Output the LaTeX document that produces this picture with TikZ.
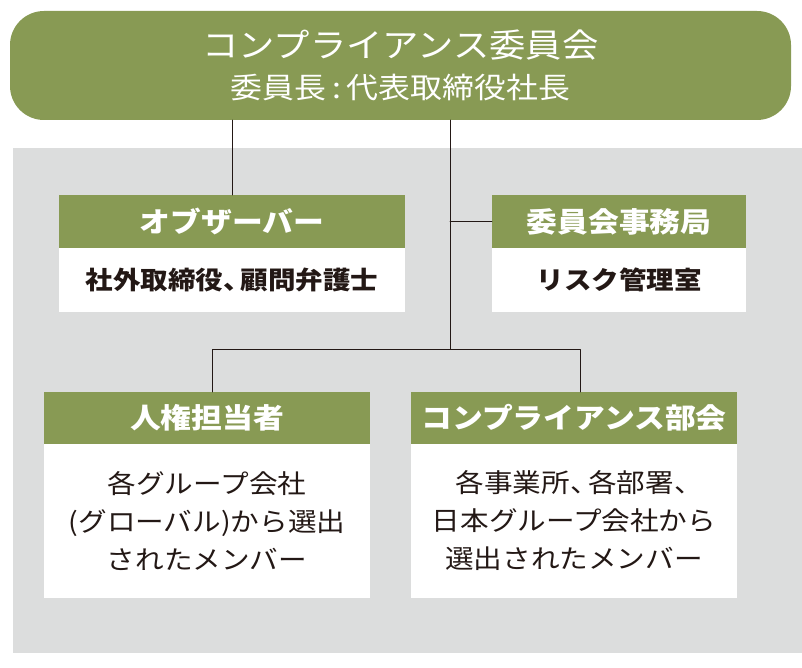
\documentclass[tikz,border=0pt]{standalone}
\usepackage{fontspec}
\setmainfont{Noto Sans CJK JP}[FakeStretch=1.1]
\usetikzlibrary{positioning}
\definecolor{olive}{RGB}{136,154,84}
\definecolor{panel}{RGB}{220,221,221}
\definecolor{ink}{RGB}{35,24,21}
\newcommand\tou{、\kern-0.4em}
\begin{document}
\begin{tikzpicture}[x=1pt,y=-1pt,line cap=round,line join=round,
  head/.style={fill=olive,text=white,font=\bfseries\fontsize{28}{32}\selectfont,inner sep=0,outer sep=0},
  note/.style={fill=white,text=ink,inner sep=0,outer sep=0,align=center},
  link/.style={draw=ink,line width=0.8pt}]
  \useasboundingbox (0,0) rectangle (802,668);
  \fill[panel] (13,148) rectangle (802,653);
  \node[fill=olive,text=white,rounded corners=34,minimum width=781,minimum height=109,inner sep=0,outer sep=0,align=center,font=\fontsize{29}{41}\selectfont] (board) at (400.5,65.5)
    {{\fontsize{33}{41}\selectfont コンプライアンス委員会}\\委員長\hspace{0.2em}:\hspace{0.2em}代表取締役社長};
  \node[head,minimum width=346,minimum height=53] (obs-h) at (232,221.5) {オブザーバー};
  \node[note,minimum width=346,minimum height=64,below=0pt of obs-h,font=\bfseries\fontsize{25}{32}\selectfont] (obs-b) {社外取締役\tou 顧問弁護士};
  \node[head,minimum width=254,minimum height=53] (sec-h) at (619,221.5) {委員会事務局};
  \node[note,minimum width=254,minimum height=64,below=0pt of sec-h,font=\bfseries\fontsize{25}{32}\selectfont] (sec-b) {リスク管理室};
  \node[head,minimum width=326,minimum height=52] (hr-h) at (207,418) {人権担当者};
  \node[note,minimum width=326,minimum height=154,below=0pt of hr-h,font=\fontsize{26}{38}\selectfont] (hr-b) {各グループ会社\\(グローバル)から選出\\されたメンバー};
  \node[head,minimum width=326,minimum height=52] (cd-h) at (574,418) {コンプライアンス部会};
  \node[note,minimum width=326,minimum height=154,below=0pt of cd-h,font=\fontsize{26}{38}\selectfont] (cd-b) {各事業所\tou 各部署\tou\\日本グループ会社から\\選出されたメンバー};
  \coordinate (fork) at (450,349);
  \coordinate (fork-l) at (212,349);
  \coordinate (fork-r) at (580,349);
  \draw[link] (obs-h.north) -- (obs-h.north |- board.south);
  \draw[link] (board.south -| fork) -- (fork);
  \draw[link] (sec-h.west) -- (sec-h.west -| fork);
  \draw[link] (fork-l |- hr-h.north) -- (fork-l) -- (fork-r) -- (fork-r |- cd-h.north);
\end{tikzpicture}
\end{document}
